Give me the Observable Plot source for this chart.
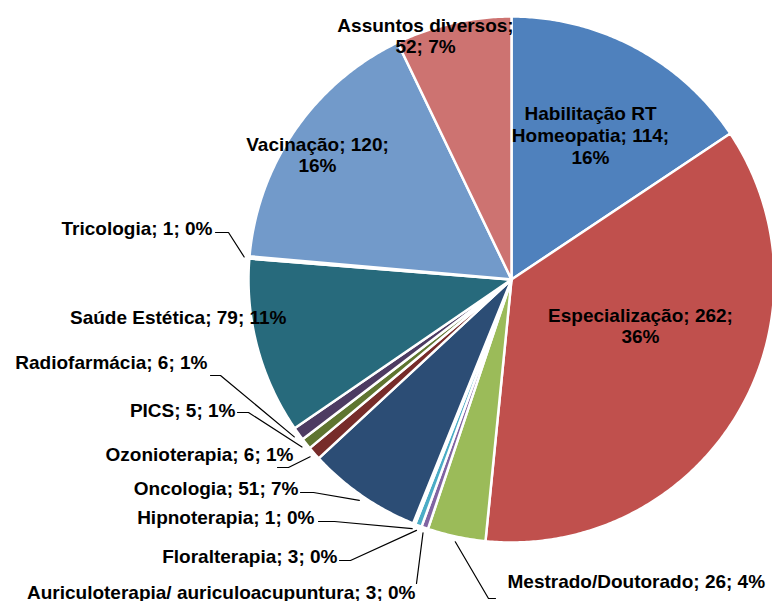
<!DOCTYPE html>
<html><head><meta charset="utf-8">
<script src="https://cdn.jsdelivr.net/npm/d3@7"></script>
<script src="https://cdn.jsdelivr.net/npm/@observablehq/plot@0.6"></script>
<style>body{margin:0;background:#fff}#chart{width:772px;height:601px;overflow:hidden}</style>
</head><body><div id="chart"></div>
<script>
// ---- data ----
const categories = ["Habilitação RT Homeopatia","Especialização","Mestrado/Doutorado","Auriculoterapia/ auriculoacupuntura","Floralterapia","Hipnoterapia","Oncologia","Ozonioterapia","PICS","Radiofarmácia","Saúde Estética","Tricologia","Vacinação","Assuntos diversos"];
const values = [114,262,26,3,3,1,51,6,5,6,79,1,120,52];
const percentLabels = [16,36,4,0,0,0,7,1,1,1,11,0,16,7];
const colors = ["#4F81BD","#C0504D","#9BBB59","#8064A2","#4BACC6","#F79646","#2C4D75","#772C2A","#5F7530","#4D3B62","#276A7C","#B65708","#729ACA","#CD7371"];

// ---- layout (pixels) ----
const W = 772, H = 601, CX = 511, CY = 279, R = 263;
const u = px => (px - CX) / R, v = py => (CY - py) / R;
const labelLayout = [
  {lines:["Habilitação RT","Homeopatia; 114;","%"], at:[590,134.5], anchor:"middle"},
  {lines:["Especialização; 262;","%"], at:[640,325], anchor:"middle"},
  {lines:["Mestrado/Doutorado; 26; %"], at:[507,580], anchor:"start", leader:[[495,598],[488,598]]},
  {lines:["Auriculoterapia/ auriculoacupuntura; 3; %"], at:[415,591], anchor:"end", leader:[[416,583]]},
  {lines:["Floralterapia; 3; %"], at:[337,555], anchor:"end", leader:[[339,560],[350,560]]},
  {lines:["Hipnoterapia; 1; %"], at:[314,516], anchor:"end", leader:[[318,521],[334,521]]},
  {lines:["Oncologia; 51; %"], at:[298,487], anchor:"end", leader:[[300,492],[313,492]]},
  {lines:["Ozonioterapia; 6; %"], at:[293,453], anchor:"end", leader:[[277,467],[288,467]]},
  {lines:["PICS; 5; %"], at:[235,409], anchor:"end", leader:[[237,412],[248,412]]},
  {lines:["Radiofarmácia; 6; %"], at:[207,361], anchor:"end", leader:[[210,375],[220,375]]},
  {lines:["Saúde Estética; 79; %"], at:[286,316], anchor:"end"},
  {lines:["Tricologia; 1; %"], at:[212,227], anchor:"end", leader:[[215,232],[228,232]]},
  {lines:["Vacinação; 120;","%"], at:[317,154], anchor:"middle"},
  {lines:["Assuntos diversos;","52; %"], at:[425,35], anchor:"middle"}
];

const rows = categories.map((name,i)=>({name, value: values[i], pct: percentLabels[i]}));
const arcs = d3.pie().sort(null).value(d=>d.value)(rows);

// slice polygons in radius units
const poly = [];
arcs.forEach(a=>{
  const n = Math.max(2, Math.ceil((a.endAngle-a.startAngle)/(Math.PI/360)));
  poly.push({name:a.data.name, x:0, y:0});
  for (let j=0;j<=n;j++){
    const t = a.startAngle + (a.endAngle-a.startAngle)*j/n;
    poly.push({name:a.data.name, x:Math.sin(t), y:Math.cos(t)});
  }
  poly.push({name:a.data.name, x:0, y:0});
});

// labels
const labels = arcs.map((a,i)=>{
  const L = labelLayout[i];
  const text = L.lines.join("\n").replace(/%$/, a.data.pct + "%");
  return {name:a.data.name, x:u(L.at[0]), y:v(L.at[1]), text, anchor:L.anchor};
});

// leader lines: label side points then slice point at mid angle
const leaders = [];
arcs.forEach((a,i)=>{
  const L = labelLayout[i];
  if (!L.leader) return;
  L.leader.forEach(p=>leaders.push({k:i, x:u(p[0]), y:v(p[1])}));
  const m = (a.startAngle + a.endAngle)/2;
  leaders.push({k:i, x:1.02*Math.sin(m), y:1.02*Math.cos(m)});
});

const textOpts = {x:"x", y:"y", text:"text", fontSize:19, fontWeight:"bold", fill:"#000", lineHeight:1.15,
  fontFamily:"'Liberation Sans', Arial, sans-serif"};

const chart = Plot.plot({
  width: W, height: H, margin: 0,
  x: {domain:[u(0), u(W)], range:[0, W], axis:null},
  y: {domain:[v(H), v(0)], range:[H, 0], axis:null},
  color: {domain: categories, range: colors},
  marks: [
    Plot.line(poly, {x:"x", y:"y", z:"name", fill:"name", stroke:"white", strokeWidth:2.5, strokeLinejoin:"round", curve:"linear"}),
    Plot.line(leaders, {x:"x", y:"y", z:"k", stroke:"#000", strokeWidth:1.2}),
    Plot.text(labels.filter(d=>d.anchor==="middle"), {...textOpts, textAnchor:"middle"}),
    Plot.text(labels.filter(d=>d.anchor==="end"), {...textOpts, textAnchor:"end"}),
    Plot.text(labels.filter(d=>d.anchor==="start"), {...textOpts, textAnchor:"start"})
  ]
});
document.getElementById("chart").appendChild(chart);
</script>
</body></html>
